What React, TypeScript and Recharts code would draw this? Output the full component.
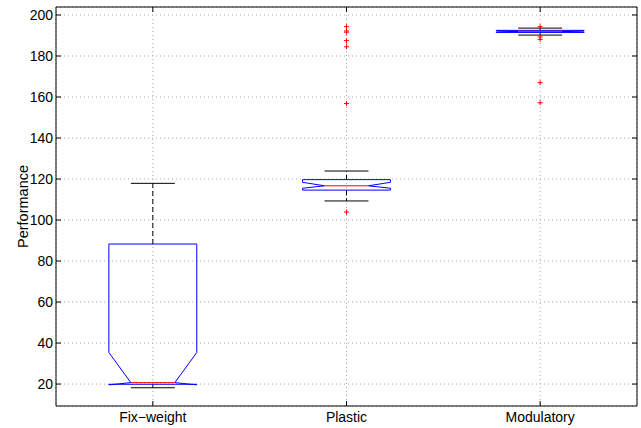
import React from 'react';
import { ComposedChart, XAxis, YAxis, CartesianGrid, ReferenceLine, Scatter } from 'recharts';

const categories = ['Fix\u2212weight', 'Plastic', 'Modulatory'];
const positions = [1, 2, 3];
const whiskerLow = [18.2, 109.3, 190.2];
const quartile1 = [19.9, 114.6, 191.5];
const notchLow = [19.6, 115.5, 191.7];
const medians = [20.7, 116.7, 192.0];
const notchHigh = [35.4, 118.4, 192.3];
const quartile3 = [88.3, 119.7, 192.5];
const whiskerHigh = [117.9, 123.9, 193.6];
const outliersFixWeight: number[] = [];
const outliersPlastic = [194.3, 192.2, 191.6, 187.5, 184.5, 156.8, 103.9];
const outliersModulatory = [194.3, 189.3, 188.1, 167.0, 157.2];
const yTicks = [20, 40, 60, 80, 100, 120, 140, 160, 180, 200];
const yDomain = [9.3, 203.9];
const xDomain = [0.5, 3.5];

const BOX_HALF = 0.227;
const BLUE = '#0000ff';
const RED = '#ff0000';
const FONT = '"Liberation Sans", Arial, Helvetica, sans-serif';

const outlierGroups = [outliersFixWeight, outliersPlastic, outliersModulatory];
const outlierData = outlierGroups.flatMap((g, i) => g.map((v) => ({ x: positions[i], y: v })));

type Seg = { key: string; pts: [number, number][]; color: string; dash?: string };

const segments: Seg[] = [];
positions.forEach((x, i) => {
  const w = BOX_HALF;
  const h = w / 2;
  segments.push({ key: `wu${i}`, pts: [[x, quartile3[i]], [x, whiskerHigh[i]]], color: '#000', dash: '5 3' });
  segments.push({ key: `wl${i}`, pts: [[x, quartile1[i]], [x, whiskerLow[i]]], color: '#000', dash: '5 3' });
  segments.push({ key: `cu${i}`, pts: [[x - h, whiskerHigh[i]], [x + h, whiskerHigh[i]]], color: '#000' });
  segments.push({ key: `cl${i}`, pts: [[x - h, whiskerLow[i]], [x + h, whiskerLow[i]]], color: '#000' });
  const poly: [number, number][] = [
    [x - w, quartile1[i]],
    [x - w, notchLow[i]],
    [x - h, medians[i]],
    [x - w, notchHigh[i]],
    [x - w, quartile3[i]],
    [x + w, quartile3[i]],
    [x + w, notchHigh[i]],
    [x + h, medians[i]],
    [x + w, notchLow[i]],
    [x + w, quartile1[i]],
    [x - w, quartile1[i]],
  ];
  for (let k = 0; k < poly.length - 1; k++) {
    segments.push({ key: `b${i}_${k}`, pts: [poly[k], poly[k + 1]], color: BLUE });
  }
  segments.push({ key: `m${i}`, pts: [[x - h, medians[i]], [x + h, medians[i]]], color: RED });
});

const PlusShape = (props: any) => {
  const { cx, cy } = props;
  if (cx == null || cy == null) return null;
  const s = 2.5;
  return (
    <g>
      <line x1={cx - s} y1={cy} x2={cx + s} y2={cy} stroke={RED} strokeWidth={1} />
      <line x1={cx} y1={cy - s} x2={cx} y2={cy + s} stroke={RED} strokeWidth={1} />
    </g>
  );
};

const YLabel = (props: any) => {
  const vb = props.viewBox || { x: 11, y: 7, width: 45, height: 399 };
  const x = vb.x + 16.5;
  const y = vb.y + vb.height / 2;
  return (
    <text x={x} y={y} transform={`rotate(-90, ${x}, ${y})`} textAnchor="middle" fontSize={14.5} fontFamily={FONT} fill="#000">
      Performance
    </text>
  );
};

const tickStyle = { fontSize: 14, fontFamily: FONT, fill: '#000' };

export default function App() {
  return (
    <div style={{ position: 'absolute', left: 0, top: 0, width: 641, height: 428, background: '#fff' }}>
      <ComposedChart width={641} height={428} margin={{ top: 0, right: 0, bottom: 0, left: 11 }}>
        <CartesianGrid stroke="#a8a8a8" strokeDasharray="1 3" xAxisId="bottom" yAxisId="left" />
        <XAxis
          xAxisId="bottom"
          type="number"
          dataKey="x"
          domain={xDomain}
          ticks={positions}
          tickFormatter={(v: number) => categories[positions.indexOf(v)] ?? ''}
          allowDataOverflow
          height={22}
          tickSize={-5}
          tickMargin={11}
          stroke="#000"
          tick={tickStyle}
          interval={0}
        />
        <XAxis
          xAxisId="top"
          orientation="top"
          type="number"
          dataKey="x"
          domain={xDomain}
          ticks={positions}
          tickFormatter={() => ''}
          allowDataOverflow
          height={7}
          tickSize={-5}
          stroke="#000"
          interval={0}
        />
        <YAxis
          yAxisId="left"
          type="number"
          domain={yDomain}
          ticks={yTicks}
          allowDataOverflow
          width={45}
          tickSize={-5}
          tickMargin={8}
          stroke="#000"
          tick={tickStyle}
          interval={0}
          label={<YLabel />}
        />
        <YAxis
          yAxisId="right"
          orientation="right"
          type="number"
          domain={yDomain}
          ticks={yTicks}
          allowDataOverflow
          width={4}
          tickSize={-5}
          tickFormatter={() => ''}
          stroke="#000"
          interval={0}
        />
        {segments.map((s) => (
          <ReferenceLine
            key={s.key}
            xAxisId="bottom"
            yAxisId="left"
            segment={[{ x: s.pts[0][0], y: s.pts[0][1] }, { x: s.pts[1][0], y: s.pts[1][1] }]}
            stroke={s.color}
            strokeWidth={1}
            strokeDasharray={s.dash}
            ifOverflow="visible"
          />
        ))}
        <Scatter
          xAxisId="bottom"
          yAxisId="left"
          data={outlierData}
          dataKey="y"
          shape={<PlusShape />}
          isAnimationActive={false}
        />
      </ComposedChart>
    </div>
  );
}
